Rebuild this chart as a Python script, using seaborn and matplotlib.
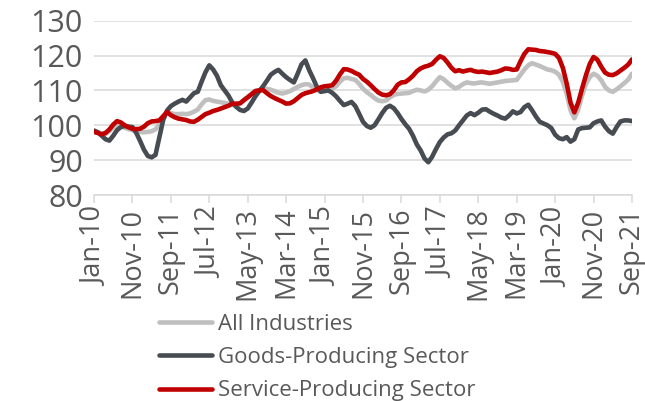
import numpy as np
import pandas as pd
import seaborn as sns
from matplotlib import pyplot as plt

# monthly index, Jan-10 .. Sep-21 (141 months)
months = pd.date_range('2010-01-01', '2021-09-01', freq='MS')
tick_labels = ['Jan-10', 'Nov-10', 'Sep-11', 'Jul-12', 'May-13', 'Mar-14', 'Jan-15', 'Nov-15',
               'Sep-16', 'Jul-17', 'May-18', 'Mar-19', 'Jan-20', 'Nov-20', 'Sep-21']

all_industries = [
    98.2, 98.0, 97.6, 97.5, 98.3, 99.4, 100.0, 99.8, 99.3, 98.9,
    98.6, 98.3, 98.1, 98.0, 98.1, 98.3, 98.8, 100.3, 102.3, 103.6,
    103.5, 103.2, 103.2, 103.3, 103.2, 103.4, 103.9, 104.5, 106.0, 107.2,
    107.4, 107.0, 106.8, 106.6, 106.4, 106.2, 106.0, 105.8, 106.2, 107.2,
    108.2, 109.0, 109.9, 110.1, 110.5, 110.4, 110.2, 109.8, 109.3, 109.1,
    109.4, 109.8, 110.4, 111.0, 111.5, 111.8, 111.7, 110.8, 110.1, 110.0,
    110.1, 110.2, 110.6, 111.2, 112.5, 113.5, 113.6, 113.3, 113.0, 111.9,
    110.5, 109.5, 108.7, 107.8, 107.1, 106.9, 107.1, 108.0, 108.7, 109.0,
    109.1, 109.2, 109.3, 109.8, 110.2, 110.0, 109.7, 110.2, 111.2, 112.6,
    113.8, 113.2, 112.2, 111.3, 110.6, 111.0, 111.8, 112.3, 112.1, 112.0,
    112.2, 112.3, 112.1, 111.9, 112.1, 112.3, 112.5, 112.7, 112.8, 112.9,
    113.0, 114.5, 116.0, 117.2, 117.8, 117.4, 117.0, 116.5, 116.0, 115.8,
    115.4, 114.5, 112.5, 109.0, 104.3, 102.0, 104.5, 108.5, 111.8, 113.8,
    114.8, 114.2, 112.9, 111.0, 110.0, 109.6, 110.3, 111.2, 112.1, 113.1,
    114.8,
]

goods_producing = [
    98.5, 98.0, 97.0, 96.0, 95.6, 97.0, 98.6, 99.5, 99.8, 99.6,
    99.5, 97.8, 95.5, 93.0, 91.2, 90.8, 91.5, 96.5, 101.5, 104.2,
    105.5, 106.2, 106.8, 107.3, 106.8, 108.0, 109.2, 109.6, 112.5, 115.2,
    117.2, 116.0, 114.2, 111.5, 110.0, 108.5, 106.5, 105.3, 104.4, 104.1,
    104.8, 106.5, 108.3, 109.8, 111.2, 112.8, 114.5, 115.3, 115.9, 114.8,
    113.8, 113.0, 112.3, 114.8, 117.5, 118.6, 115.8, 113.5, 111.0, 109.6,
    109.8, 110.0, 109.3, 108.3, 107.0, 105.8, 106.2, 106.7, 105.5, 103.3,
    101.0, 99.8, 99.3, 100.0, 101.7, 103.5, 105.0, 105.6, 104.9, 103.5,
    101.8, 100.3, 99.0, 97.0, 94.5, 92.8, 90.5, 89.4, 91.0, 93.2,
    95.2, 96.5, 97.4, 97.7, 98.5, 100.0, 101.4, 102.8, 103.5, 102.9,
    103.6, 104.5, 104.6, 103.9, 103.3, 102.8, 102.2, 101.9, 102.8, 104.0,
    103.4, 103.8, 105.2, 105.9, 104.3, 102.5, 101.0, 100.5, 100.0, 99.2,
    97.3, 96.3, 96.0, 96.6, 95.3, 96.0, 98.8, 99.2, 99.3, 99.4,
    100.6, 101.1, 101.4, 99.6, 98.3, 97.6, 99.5, 101.1, 101.4, 101.4,
    101.2,
]

service_producing = [
    98.1, 97.8, 97.4, 97.8, 98.8, 100.2, 101.2, 100.8, 100.0, 99.4,
    99.0, 98.9, 99.0, 99.6, 100.6, 101.1, 101.2, 101.4, 102.6, 103.8,
    102.9, 102.3, 101.9, 101.7, 101.5, 101.1, 101.0, 101.6, 102.4, 103.2,
    103.6, 104.1, 104.4, 104.8, 105.2, 105.6, 106.2, 106.2, 106.3, 107.2,
    108.0, 108.9, 109.8, 110.0, 110.1, 109.2, 108.4, 107.8, 107.3, 106.8,
    106.2, 106.3, 106.9, 107.8, 108.7, 109.2, 109.5, 109.8, 110.3, 110.9,
    111.2, 111.3, 111.5, 112.8, 114.6, 116.1, 116.0, 115.6, 115.0, 114.5,
    113.3, 112.5, 111.5, 110.4, 109.4, 108.8, 108.6, 108.9, 110.0, 111.6,
    112.3, 112.4, 113.2, 114.2, 115.5, 116.3, 116.8, 117.1, 117.6, 118.8,
    119.8, 119.3, 118.0, 116.5, 115.5, 115.8, 115.4, 115.7, 115.9, 115.5,
    115.3, 115.4, 115.2, 115.0, 115.2, 115.4, 115.8, 116.3, 116.2, 115.9,
    116.0, 118.4, 120.5, 121.8, 121.7, 121.6, 121.3, 121.2, 121.0, 120.8,
    120.5, 119.3, 116.5, 112.0, 106.5, 103.7, 106.5, 110.5, 114.3, 117.6,
    119.6, 118.8, 116.8, 115.1, 114.5, 114.4, 114.9, 115.7, 116.5, 117.4,
    118.9,
]

series_names = ['All Industries', 'Goods-Producing Sector', 'Service-Producing Sector']
series_colors = ['#BFBFBF', '#474B52', '#C00000']


def main():
    sns.set_style('white')
    plt.rcParams['font.family'] = ['Open Sans', 'DejaVu Sans']

    idx = np.arange(len(months))
    df = pd.DataFrame({
        'month': np.tile(idx, 3),
        'value': all_industries + goods_producing + service_producing,
        'series': np.repeat(series_names, len(months)),
    })

    fig = plt.figure(figsize=(6.45, 4.01), dpi=100)
    ax = fig.add_axes([94 / 645, 1 - 195 / 401, 538 / 645, (195 - 20.7) / 401])

    sns.lineplot(data=df, x='month', y='value', hue='series', hue_order=series_names,
                 palette=series_colors, linewidth=3.3, legend=False, ax=ax)

    ax.set_xlim(0, 140)
    ax.set_ylim(80, 130)
    ax.set_yticks(range(80, 131, 10))
    ax.set_xticks(range(0, 141, 10))
    ax.set_xticklabels(tick_labels, rotation=90)
    ax.set_xlabel('')
    ax.set_ylabel('')

    ax.grid(axis='y', color='#D9D9D9', linewidth=1.1)
    ax.set_axisbelow(True)
    for side in ('left', 'right', 'top'):
        ax.spines[side].set_visible(False)
    ax.spines['bottom'].set_color('#D9D9D9')
    ax.spines['bottom'].set_linewidth(1.1)

    ax.tick_params(axis='x', direction='out', length=6, width=1.1, color='#D9D9D9',
                   labelsize=19.5, labelcolor='#595959', pad=3, bottom=True)
    ax.tick_params(axis='y', length=0, labelsize=22, labelcolor='#595959', pad=8)

    handles = ax.get_lines()[:3]
    fig.legend(handles, series_names, loc='upper left', bbox_to_anchor=(159 / 645, 1 - 314 / 401),
               frameon=False, fontsize=16, handlelength=2.4, handletextpad=0.25,
               labelspacing=0.55, borderpad=0, borderaxespad=0, labelcolor='#595959')

    fig.savefig('out.png', dpi=100)


if __name__ == '__main__':
    main()
